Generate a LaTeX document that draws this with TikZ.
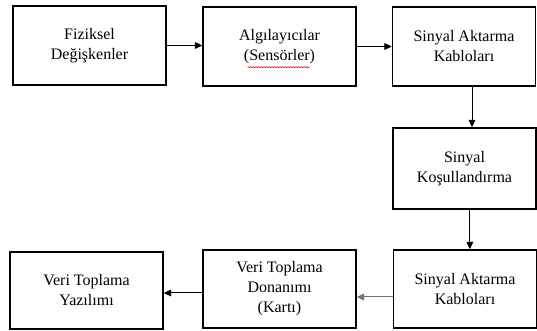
\documentclass[tikz,border=0pt]{standalone}
\usepackage{fontspec}
\setmainfont{Liberation Serif}
\usepackage{tikz}
\usetikzlibrary{arrows.meta,decorations.pathmorphing}

\begin{document}
\begin{tikzpicture}[x=0.75pt, y=-0.75pt,
	box/.style={draw, line width=1.1pt, rectangle, inner sep=0pt, align=center,
		minimum width=114.75pt, minimum height=59.25pt,
		font=\fontsize{12}{15}\selectfont},
	rbox/.style={box, minimum width=107.25pt},
	arr/.style={line width=0.75pt, -{Triangle[length=5.5pt, width=5pt]}}]
			%%%%% START %%%%%
			
			\useasboundingbox (0, 0) rectangle (537, 331);
			
			% top row
			\node[box] (fiz) at (89.5, 45.5) {Fiziksel\\Değişkenler};
			\node[box] (alg) at (279.5, 46.5) {Algılayıcılar\\(Sensörler)};
			\node[rbox] (kab1) at (464, 46.5) {Sinyal Aktarma\\Kabloları};
			
			% right column
			\node[rbox, minimum height=60.75pt] (kos) at (464.5, 168.5) {Sinyal\\Koşullandırma};
			\node[rbox, minimum height=58.5pt] (kab2) at (465, 289) {Sinyal Aktarma\\Kabloları};
			
			% bottom row
			\node[box, minimum height=58.5pt] (don) at (279.5, 289) {Veri Toplama\\Donanımı\\(Kartı)};
			\node[box, minimum height=57.75pt] (yaz) at (86.5, 290.5) {Veri Toplama\\Yazılımı};
			
			% spell check line
			\draw[red, line width=0.4pt, decorate, decoration={snake, amplitude=0.5pt, segment length=2pt}]
				([xshift=-24pt, yshift=-15.5pt]alg.center) -- ([xshift=23pt, yshift=-15.5pt]alg.center);
			
			\draw[arr] (fiz.east) -- (fiz.east -| alg.west);
			\draw[arr] (alg.east) -- (alg.east -| kab1.west);
			\draw[arr] ([xshift=6pt]kab1.south) -- ([xshift=6pt]kab1.south |- kos.north);
			\draw[arr] ([xshift=4pt]kos.south) -- ([xshift=4pt]kos.south |- kab2.north);
			\draw[arr, black!55] ([yshift=-6pt]kab2.west) -- ([yshift=-6pt]kab2.west -| don.east);
			\draw[arr] ([yshift=-3pt]don.west) -- ([yshift=-3pt]don.west -| yaz.east);
			
			%%%%% END %%%%%
\end{tikzpicture}
\end{document}
